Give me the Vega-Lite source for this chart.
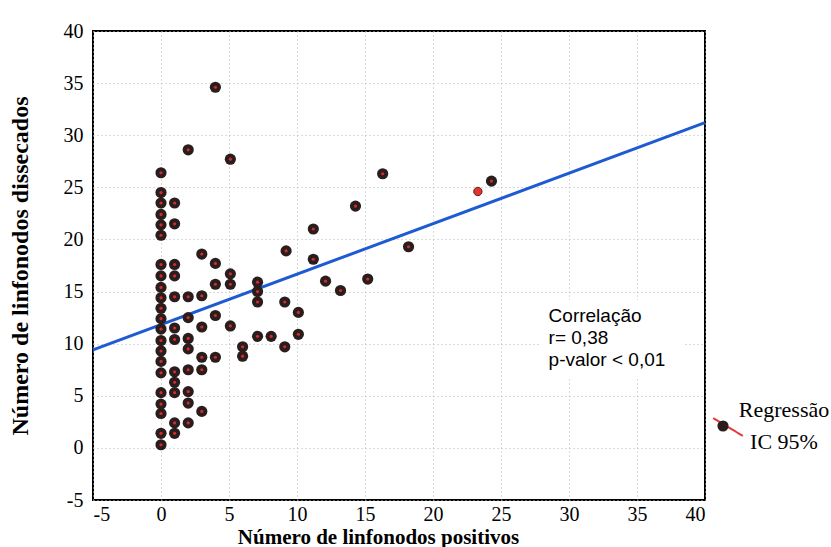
{
  "$schema": "https://vega.github.io/schema/vega-lite/v6.json",
  "width": 612,
  "height": 469,
  "autosize": {"type": "none"},
  "padding": {"left": 93, "top": 31, "right": 126, "bottom": 47},
  "background": "white",
  "datasets": {
    "linfonodos": [
      {"positivos": 0, "dissecados": 26.4, "grupo": "A"},
      {"positivos": 0, "dissecados": 24.5, "grupo": "A"},
      {"positivos": 0, "dissecados": 23.5, "grupo": "A"},
      {"positivos": 0, "dissecados": 22.4, "grupo": "A"},
      {"positivos": 0, "dissecados": 21.4, "grupo": "A"},
      {"positivos": 0, "dissecados": 20.4, "grupo": "A"},
      {"positivos": 0, "dissecados": 17.6, "grupo": "A"},
      {"positivos": 0, "dissecados": 16.5, "grupo": "A"},
      {"positivos": 0, "dissecados": 15.4, "grupo": "A"},
      {"positivos": 0, "dissecados": 14.4, "grupo": "A"},
      {"positivos": 0, "dissecados": 13.4, "grupo": "A"},
      {"positivos": 0, "dissecados": 12.4, "grupo": "A"},
      {"positivos": 0, "dissecados": 11.4, "grupo": "A"},
      {"positivos": 0, "dissecados": 10.3, "grupo": "A"},
      {"positivos": 0, "dissecados": 9.3, "grupo": "A"},
      {"positivos": 0, "dissecados": 8.3, "grupo": "A"},
      {"positivos": 0, "dissecados": 7.2, "grupo": "A"},
      {"positivos": 0, "dissecados": 5.3, "grupo": "A"},
      {"positivos": 0, "dissecados": 4.2, "grupo": "A"},
      {"positivos": 0, "dissecados": 3.3, "grupo": "A"},
      {"positivos": 0, "dissecados": 1.4, "grupo": "A"},
      {"positivos": 0, "dissecados": 0.3, "grupo": "A"},
      {"positivos": 1, "dissecados": 23.5, "grupo": "A"},
      {"positivos": 1, "dissecados": 21.5, "grupo": "A"},
      {"positivos": 1, "dissecados": 17.6, "grupo": "A"},
      {"positivos": 1, "dissecados": 16.5, "grupo": "A"},
      {"positivos": 1, "dissecados": 14.5, "grupo": "A"},
      {"positivos": 1, "dissecados": 11.5, "grupo": "A"},
      {"positivos": 1, "dissecados": 10.4, "grupo": "A"},
      {"positivos": 1, "dissecados": 7.3, "grupo": "A"},
      {"positivos": 1, "dissecados": 6.3, "grupo": "A"},
      {"positivos": 1, "dissecados": 5.3, "grupo": "A"},
      {"positivos": 1, "dissecados": 2.4, "grupo": "A"},
      {"positivos": 1, "dissecados": 1.4, "grupo": "A"},
      {"positivos": 2, "dissecados": 28.6, "grupo": "A"},
      {"positivos": 2, "dissecados": 14.5, "grupo": "A"},
      {"positivos": 2, "dissecados": 12.5, "grupo": "A"},
      {"positivos": 2, "dissecados": 10.5, "grupo": "A"},
      {"positivos": 2, "dissecados": 9.5, "grupo": "A"},
      {"positivos": 2, "dissecados": 7.5, "grupo": "A"},
      {"positivos": 2, "dissecados": 5.4, "grupo": "A"},
      {"positivos": 2, "dissecados": 4.3, "grupo": "A"},
      {"positivos": 2, "dissecados": 2.4, "grupo": "A"},
      {"positivos": 3, "dissecados": 18.6, "grupo": "A"},
      {"positivos": 3, "dissecados": 14.6, "grupo": "A"},
      {"positivos": 3, "dissecados": 11.6, "grupo": "A"},
      {"positivos": 3, "dissecados": 8.7, "grupo": "A"},
      {"positivos": 3, "dissecados": 7.5, "grupo": "A"},
      {"positivos": 3, "dissecados": 3.5, "grupo": "A"},
      {"positivos": 4, "dissecados": 34.6, "grupo": "A"},
      {"positivos": 4, "dissecados": 17.7, "grupo": "A"},
      {"positivos": 4, "dissecados": 15.7, "grupo": "A"},
      {"positivos": 4, "dissecados": 12.7, "grupo": "A"},
      {"positivos": 4, "dissecados": 8.7, "grupo": "A"},
      {"positivos": 5.1, "dissecados": 27.7, "grupo": "A"},
      {"positivos": 5.1, "dissecados": 16.7, "grupo": "A"},
      {"positivos": 5.1, "dissecados": 15.7, "grupo": "A"},
      {"positivos": 5.1, "dissecados": 11.7, "grupo": "A"},
      {"positivos": 6, "dissecados": 9.7, "grupo": "A"},
      {"positivos": 6, "dissecados": 8.8, "grupo": "A"},
      {"positivos": 7.1, "dissecados": 15.9, "grupo": "A"},
      {"positivos": 7.1, "dissecados": 15.0, "grupo": "A"},
      {"positivos": 7.1, "dissecados": 14.0, "grupo": "A"},
      {"positivos": 7.1, "dissecados": 10.7, "grupo": "A"},
      {"positivos": 8.1, "dissecados": 10.7, "grupo": "A"},
      {"positivos": 9.2, "dissecados": 18.9, "grupo": "A"},
      {"positivos": 9.1, "dissecados": 14.0, "grupo": "A"},
      {"positivos": 9.1, "dissecados": 9.7, "grupo": "A"},
      {"positivos": 10.1, "dissecados": 13.0, "grupo": "A"},
      {"positivos": 10.1, "dissecados": 10.9, "grupo": "A"},
      {"positivos": 11.2, "dissecados": 21.0, "grupo": "A"},
      {"positivos": 11.2, "dissecados": 18.1, "grupo": "A"},
      {"positivos": 12.1, "dissecados": 16.0, "grupo": "A"},
      {"positivos": 13.2, "dissecados": 15.1, "grupo": "A"},
      {"positivos": 14.3, "dissecados": 23.2, "grupo": "A"},
      {"positivos": 15.2, "dissecados": 16.2, "grupo": "A"},
      {"positivos": 16.3, "dissecados": 26.3, "grupo": "A"},
      {"positivos": 18.2, "dissecados": 19.3, "grupo": "A"},
      {"positivos": 24.3, "dissecados": 25.6, "grupo": "A"},
      {"positivos": 23.3, "dissecados": 24.6, "grupo": "B"}
    ],
    "reta": [
      {"positivos": -5, "dissecados": 9.4},
      {"positivos": 40, "dissecados": 31.2}
    ]
  },
  "config": {
    "view": {"stroke": "black", "strokeWidth": 2},
    "axis": {
      "labelFont": "Liberation Serif",
      "labelFontSize": 20,
      "labelColor": "black",
      "labelExpr": "'' + datum.value",
      "titleFont": "Liberation Serif",
      "titleFontWeight": "bold",
      "titleFontSize": 21,
      "titleColor": "black",
      "ticks": false,
      "domain": false,
      "grid": true,
      "gridColor": "#b5b5b5",
      "gridDash": [1, 3],
      "gridWidth": 1
    }
  },
  "layer": [
    {
      "data": {"values": [{}]},
      "mark": {"type": "rect", "fill": "white"},
      "encoding": {
        "x": {"datum": 27.8},
        "x2": {"datum": 38.5},
        "y": {"datum": 14.2},
        "y2": {"datum": 6.6}
      }
    },
    {
      "data": {"name": "reta"},
      "mark": {"type": "line", "color": "#1e5bd2", "strokeWidth": 3},
      "encoding": {
        "x": {
          "field": "positivos",
          "type": "quantitative",
          "scale": {"domain": [-5, 40], "nice": false, "zero": false},
          "axis": {
            "values": [-5, 0, 5, 10, 15, 20, 25, 30, 35, 40],
            "title": "Número de linfonodos positivos",
            "labelPadding": 4,
            "titlePadding": 2,
            "titleX": 285
          }
        },
        "y": {
          "field": "dissecados",
          "type": "quantitative",
          "scale": {"domain": [-5, 40], "nice": false, "zero": false},
          "axis": {
            "values": [-5, 0, 5, 10, 15, 20, 25, 30, 35, 40],
            "title": "Número de linfonodos dissecados",
            "titleFontSize": 24,
            "labelPadding": 10,
            "titlePadding": 31
          }
        }
      }
    },
    {
      "data": {"values": [{}]},
      "mark": {"type": "line", "color": "#e23a3a", "strokeWidth": 2},
      "encoding": {
        "x": {"datum": -5},
        "y": {"datum": -5},
        "strokeDash": {
          "datum": "reta",
          "scale": {"range": [[1, 0]]},
          "legend": {
            "orient": "none",
            "legendX": 619,
            "legendY": 380,
            "zindex": 1,
            "title": null,
            "padding": 0,
            "symbolType": "M-1,-0.6L1,0.6",
            "symbolSize": 880,
            "symbolStrokeWidth": 2,
            "symbolStrokeColor": "#e23a3a",
            "labelExpr": "''"
          }
        }
      }
    },
    {
      "data": {"name": "linfonodos"},
      "transform": [{"filter": "datum.grupo == 'A'"}],
      "mark": {"type": "point", "filled": true, "opacity": 1, "size": 125},
      "encoding": {
        "x": {"field": "positivos", "type": "quantitative"},
        "y": {"field": "dissecados", "type": "quantitative"},
        "color": {
          "datum": "Regressão",
          "scale": {"range": ["#2a1d1d"]},
          "legend": {
            "orient": "none",
            "legendX": 619,
            "legendY": 384,
            "zindex": 2,
            "title": null,
            "padding": 0,
            "symbolType": "circle",
            "symbolSize": 125,
            "symbolOpacity": 1,
            "labelFont": "Liberation Serif",
            "labelFontSize": 22,
            "labelColor": "black",
            "labelAlign": "center",
            "labelOffset": 50,
            "labelExpr": "['Regressão', 'IC 95%']",
            "encode": {"labels": {"update": {"lineHeight": {"value": 32}, "dy": {"value": -16}}}}
          }
        }
      }
    },
    {
      "data": {"name": "linfonodos"},
      "transform": [{"filter": "datum.grupo == 'A'"}],
      "mark": {"type": "point", "filled": true, "opacity": 1, "size": 10, "color": "#d62a2a"},
      "encoding": {
        "x": {"field": "positivos", "type": "quantitative"},
        "y": {"field": "dissecados", "type": "quantitative"}
      }
    },
    {
      "data": {"name": "linfonodos"},
      "transform": [{"filter": "datum.grupo == 'B'"}],
      "mark": {"type": "point", "filled": true, "opacity": 1, "size": 70, "color": "#e0352f", "stroke": "#6a1a1a", "strokeWidth": 1},
      "encoding": {
        "x": {"field": "positivos", "type": "quantitative"},
        "y": {"field": "dissecados", "type": "quantitative"}
      }
    },
    {
      "data": {"values": [{}]},
      "mark": {
        "type": "text",
        "align": "left",
        "baseline": "top",
        "font": "Liberation Sans",
        "fontSize": 19,
        "lineHeight": 22,
        "color": "black",
        "text": ["Correlação", "r= 0,38", "p-valor < 0,01"]
      },
      "encoding": {
        "x": {"datum": 28.5},
        "y": {"datum": 13.5}
      }
    }
  ]
}
